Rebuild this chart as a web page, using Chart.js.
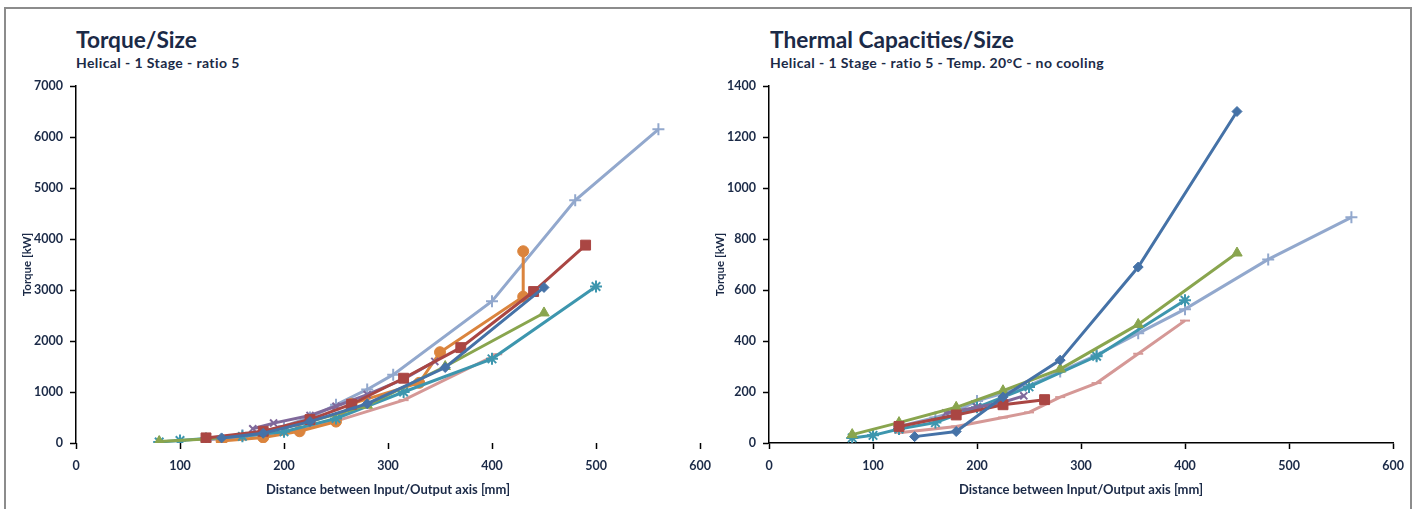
<!DOCTYPE html>
<html>
<head>
<meta charset="utf-8">
<script src="https://cdn.jsdelivr.net/npm/chart.js@4/dist/chart.umd.min.js"></script>
<style>
  body { margin: 0; background: #fff; width: 1416px; height: 509px; overflow: hidden; position: relative; font-family: Lato, sans-serif; }
  #frame { position: absolute; left: 4px; top: 7px; width: 1404px; height: 530px; border: 2px solid #8c8c8c; }
  .box { position: absolute; top: 0; height: 509px; }
  #torqueBox { left: 0; width: 720px; }
  #thermalBox { left: 700px; width: 716px; }
  .title { position: absolute; color: #1b2a47; font-weight: bold; font-size: 22.7px; line-height: 22px; top: 29px; white-space: nowrap; }
  .sub { position: absolute; color: #1b2a47; font-weight: bold; font-size: 14px; line-height: 14px; letter-spacing: 0.4px; top: 56px; white-space: nowrap; }
</style>
</head>
<body>
<div id="frame"></div>
<div class="title" style="left:76px">Torque/Size</div>
<div class="sub" style="left:76px">Helical - 1 Stage - ratio 5</div>
<div class="title" style="left:770px">Thermal Capacities/Size</div>
<div class="sub" style="left:770px">Helical - 1 Stage - ratio 5 - Temp. 20°C - no cooling</div>
<div class="box" id="torqueBox"><canvas id="torqueChart"></canvas></div>
<div class="box" id="thermalBox"><canvas id="thermalChart"></canvas></div>

<script>
// Axis ranges
const sizeMin = 0, sizeMax = 600, sizeStep = 100;
const torqueMax = 7000, torqueStep = 1000;
const thermalMax = 1400, thermalStep = 200;

// Torque [kW] per centre distance [mm]
const tqBlueX = [140, 180, 225, 280, 355, 450];
const tqBlueY = [100, 190, 420, 770, 1480, 3050];
const tqRedX = [125, 180, 225, 265, 315, 370, 440, 490];
const tqRedY = [100, 230, 460, 760, 1270, 1870, 2970, 3880];
const tqGreenX = [80, 125, 180, 225, 280, 355, 450];
const tqGreenY = [30, 80, 200, 420, 740, 1500, 2550];
const tqPurpleX = [170, 190, 225, 250, 280, 315, 345];
const tqPurpleY = [280, 390, 540, 720, 950, 1250, 1600];
const tqTealX = [80, 100, 125, 160, 200, 250, 315, 400, 500];
const tqTealY = [20, 50, 90, 130, 220, 480, 1000, 1650, 3070];
const tqOrangeX = [140, 180, 215, 250, 265, 330, 350, 430, 430];
const tqOrangeY = [40, 110, 230, 420, 770, 1180, 1780, 2870, 3760];
const tqLightX = [125, 160, 180, 200, 225, 250, 280, 305, 400, 480, 560];
const tqLightY = [60, 150, 230, 330, 500, 750, 1050, 1340, 2780, 4760, 6150];
const tqPinkX = [125, 160, 200, 250, 315, 405];
const tqPinkY = [60, 120, 220, 430, 840, 1740];

// Thermal capacity [kW] per centre distance [mm]
const thBlueX = [140, 180, 225, 280, 355, 450];
const thBlueY = [25, 45, 180, 325, 690, 1300];
const thRedX = [125, 180, 225, 265];
const thRedY = [65, 110, 150, 170];
const thGreenX = [80, 125, 180, 225, 280, 355, 450];
const thGreenY = [33, 80, 140, 205, 290, 465, 745];
const thPurpleX = [170, 200, 225, 245];
const thPurpleY = [118, 140, 160, 185];
const thTealX = [80, 100, 125, 160, 200, 250, 315, 400];
const thTealY = [20, 30, 55, 80, 140, 220, 340, 560];
const thLightX = [125, 160, 180, 200, 225, 250, 280, 315, 355, 400, 480, 560];
const thLightY = [65, 100, 125, 165, 195, 225, 280, 345, 430, 525, 720, 885];
const thPinkX = [125, 180, 225, 250, 280, 315, 355, 400];
const thPinkY = [40, 65, 100, 120, 180, 235, 350, 480];

const ink = '#1b2a47';
const colors = {
    blue: '#4572A7', red: '#AA4643', green: '#89A54E', purple: '#80699B',
    teal: '#3D96AE', orange: '#DB843D', light: '#92A8CD', pink: '#D59896'
};

function series(xs, ys, color, marker, radius) {
    const thin = ['star', 'cross', 'crossRot', 'line'].includes(marker);
    return {
        data: xs.map((x, i) => ({ x, y: ys[i] })),
        borderColor: color,
        backgroundColor: color,
        borderWidth: 3,
        pointStyle: marker,
        pointRadius: radius,
        pointBorderWidth: thin ? 2 : 1,
        showLine: true,
        tension: 0
    };
}

function axes(yMax, yStep, showXLine) {
    const tickFont = { family: 'Lato', weight: 'bold', size: 12.5 };
    return {
        x: {
            type: 'linear', min: sizeMin, max: sizeMax,
            ticks: { stepSize: sizeStep, color: ink, font: tickFont, padding: 9, callback: v => String(v) },
            grid: { drawOnChartArea: false, tickLength: 6, tickColor: '#000', tickWidth: 1.5 },
            border: { display: showXLine, color: '#000', width: 1.5 },
            title: {
                display: true, text: 'Distance between Input/Output axis [mm]', color: ink,
                font: { family: 'Lato', weight: 'bold', size: 13 }, padding: 0
            },
            afterFit: s => { s.height = 55; }
        },
        y: {
            min: 0, max: yMax,
            ticks: { stepSize: yStep, color: ink, font: tickFont, padding: 7, callback: v => String(v) },
            grid: { drawOnChartArea: false, tickLength: 6, tickColor: '#000', tickWidth: 1.5 },
            border: { color: '#000', width: 1.5 },
            title: {
                display: true, text: 'Torque [kW]', color: ink,
                font: { family: 'Lato', weight: 'bold', size: 11.5 }, padding: 0
            },
            afterFit: s => { s.width = 56; }
        }
    };
}

function makeChart(id, datasets, yMax, yStep, showXLine, padLeft, padRight) {
    return new Chart(document.getElementById(id), {
        type: 'scatter',
        data: { datasets },
        options: {
            responsive: true,
            maintainAspectRatio: false,
            animation: false,
            layout: { padding: { left: padLeft, right: padRight, top: 86, bottom: 11 } },
            plugins: { legend: { display: false }, tooltip: { enabled: false } },
            scales: axes(yMax, yStep, showXLine)
        }
    });
}

makeChart('torqueChart', [
    series(tqBlueX, tqBlueY, colors.blue, 'rectRot', 5),
    series(tqRedX, tqRedY, colors.red, 'rect', 7),
    series(tqGreenX, tqGreenY, colors.green, 'triangle', 6),
    series(tqPurpleX, tqPurpleY, colors.purple, 'crossRot', 5),
    series(tqTealX, tqTealY, colors.teal, 'star', 6),
    series(tqOrangeX, tqOrangeY, colors.orange, 'circle', 5.5),
    series(tqLightX, tqLightY, colors.light, 'cross', 6),
    series(tqPinkX, tqPinkY, colors.pink, 'line', 5)
], torqueMax, torqueStep, false, 20, 20);

makeChart('thermalChart', [
    series(thBlueX, thBlueY, colors.blue, 'rectRot', 5),
    series(thRedX, thRedY, colors.red, 'rect', 7),
    series(thGreenX, thGreenY, colors.green, 'triangle', 6),
    series(thPurpleX, thPurpleY, colors.purple, 'crossRot', 5),
    series(thTealX, thTealY, colors.teal, 'star', 6),
    series(thLightX, thLightY, colors.light, 'cross', 6),
    series(thPinkX, thPinkY, colors.pink, 'line', 5)
], thermalMax, thermalStep, true, 13, 23);
</script>
</body>
</html>
